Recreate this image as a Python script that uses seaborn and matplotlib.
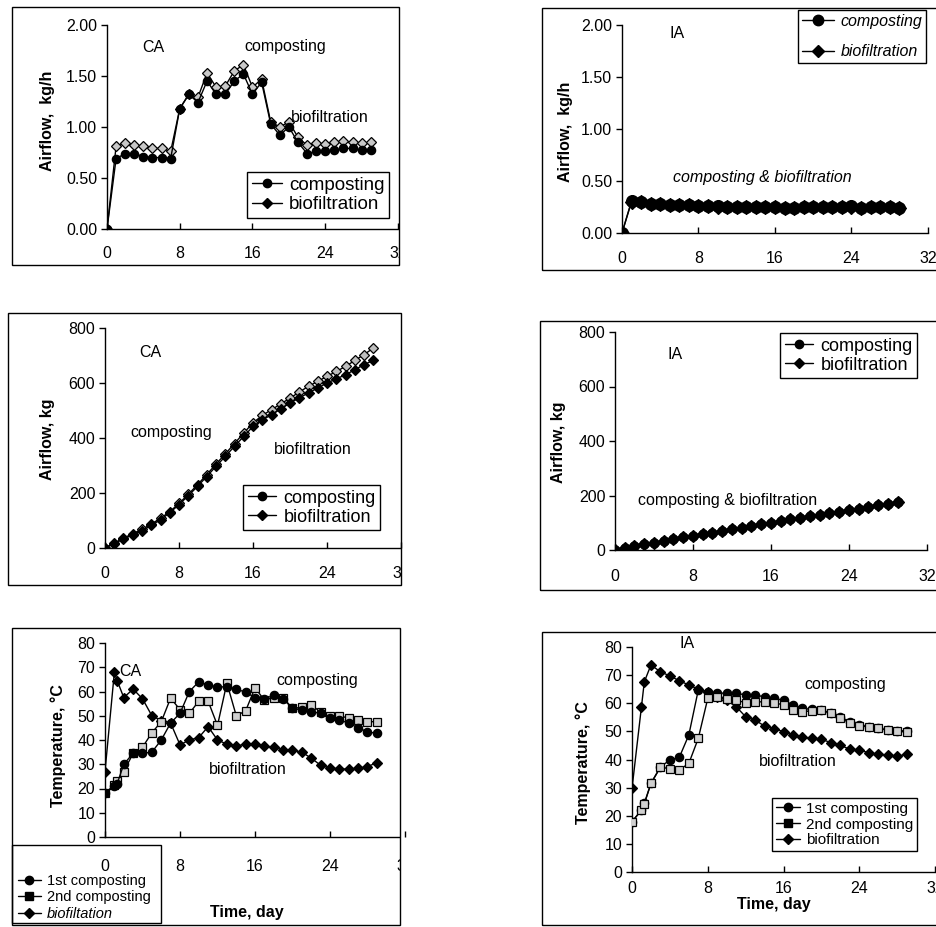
import matplotlib
matplotlib.use("Agg")
import matplotlib.pyplot as plt
import seaborn as sns
from matplotlib.lines import Line2D
from matplotlib.patches import Rectangle

sns.set_style("white")
plt.rcParams["font.family"] = ["Liberation Sans", "DejaVu Sans"]
plt.rcParams["text.color"] = "black"
plt.rcParams["axes.labelcolor"] = "black"
plt.rcParams["xtick.color"] = "black"
plt.rcParams["ytick.color"] = "black"

# ---------------- data ----------------
days = list(range(30))
days_t = [0, 1, 1.3] + list(range(2, 30))

# Airflow rate, kg/h
ca_rate_comp = [0, 0.69, 0.74, 0.74, 0.71, 0.70, 0.70, 0.69, 1.18, 1.32, 1.24, 1.45,
                1.32, 1.32, 1.45, 1.52, 1.32, 1.44, 1.03, 0.92, 1.00, 0.85, 0.74, 0.76,
                0.76, 0.77, 0.79, 0.79, 0.77, 0.77]
ca_rate_bio = [0, 0.81, 0.84, 0.82, 0.81, 0.79, 0.79, 0.76, 1.18, 1.32, 1.29, 1.53,
               1.39, 1.40, 1.55, 1.61, 1.39, 1.47, 1.05, 1.00, 1.05, 0.90, 0.82, 0.84,
               0.83, 0.85, 0.86, 0.85, 0.84, 0.85]
ia_rate_comp = [0, 0.31, 0.30, 0.28, 0.28, 0.27, 0.27, 0.27, 0.26, 0.26, 0.26, 0.25,
                0.25, 0.25, 0.25, 0.25, 0.25, 0.24, 0.24, 0.25, 0.25, 0.25, 0.25, 0.25,
                0.26, 0.24, 0.25, 0.25, 0.25, 0.24]
ia_rate_bio = [0, 0.30, 0.30, 0.28, 0.28, 0.27, 0.27, 0.27, 0.26, 0.26, 0.25, 0.25,
               0.25, 0.25, 0.25, 0.25, 0.25, 0.24, 0.24, 0.25, 0.25, 0.25, 0.25, 0.25,
               0.25, 0.24, 0.25, 0.25, 0.25, 0.24]

# Cumulative airflow, kg
ca_cum_comp = [0, 16, 33, 48, 63, 82, 103, 128, 158, 190, 224, 260, 297, 333, 370,
               406, 442, 465, 485, 506, 527, 546, 564, 582, 600, 615, 630, 648, 667, 682]
ca_cum_bio = [0, 18, 36, 52, 68, 87, 108, 132, 162, 195, 230, 267, 305, 342, 380,
              418, 455, 482, 503, 524, 545, 567, 588, 606, 624, 642, 660, 682, 703, 727]
ia_cum_comp = [0, 7, 14, 21, 27, 34, 40, 46, 52, 58, 64, 70, 76, 82, 88, 94, 100, 106,
               112, 117, 123, 129, 135, 141, 147, 152, 158, 164, 170, 175]
ia_cum_bio = [0, 7, 14, 21, 27, 34, 40, 46, 52, 58, 64, 70, 76, 82, 88, 94, 100, 106,
              112, 117, 123, 129, 135, 141, 147, 152, 158, 164, 170, 175]

# Temperature, degC
ca_t_1st = [18, 21, 22, 30, 34.5, 34.5, 35, 40, 47, 51, 60, 64, 62.7, 61.8, 62, 61,
            59.7, 57.5, 57, 58.4, 57, 53, 52.4, 51.7, 51, 49, 48.2, 47, 45, 43.4, 42.7]
ca_t_2nd = [18, 21.5, 23, 27, 34.5, 37, 43, 47.5, 57.3, 52.5, 51, 56, 56, 46, 63.5, 50,
            52, 61.5, 56.5, 57.5, 57.5, 53, 53.5, 54.5, 51.5, 50, 50, 49, 48.2, 47.6, 47.5]
ca_t_bio = [27, 68, 64.5, 57.5, 61, 57, 50, 48, 47, 38, 40, 41, 45.5, 40, 38.3, 37.5,
            38.3, 38.5, 37.5, 37, 36, 35.7, 35, 32.5, 29.6, 28.5, 28, 28, 28.3, 29, 30.7]
ia_t_1st = [17.9, 22, 24.4, 31.5, 37.4, 39.8, 40.8, 48.7, 64.7, 64, 63.7, 63.5, 63.5, 63,
            62.9, 62.3, 61.7, 61.1, 59.4, 58.2, 57.8, 57.6, 56.4, 55.2, 53.4, 52.3, 51.7,
            51.1, 50.5, 50.2, 50.2]
ia_t_2nd = [17.9, 22, 24.2, 31.5, 37.2, 36.8, 36.3, 38.6, 47.5, 61.7, 62.3, 61.4, 61.1,
            60.2, 60.5, 60.5, 60.2, 59.4, 57.6, 57, 57.3, 57.6, 56.4, 54.6, 53.1, 51.9,
            51.7, 51.1, 50.5, 50.2, 49.8]
ia_t_bio = [29.7, 58.8, 67.6, 73.6, 71.2, 69.7, 68, 66.5, 65, 64, 62.3, 61, 58.8, 55.2,
            54, 51.9, 51, 49.9, 48.7, 47.9, 47.5, 47.2, 46, 45.1, 43.6, 43.4, 42.4, 41.9,
            41.6, 41.2, 41.8]

x_ticks = [0, 8, 16, 24, 32]
rate_ticks = [0.0, 0.5, 1.0, 1.5, 2.0]
cum_ticks = [0, 200, 400, 600, 800]
temp_ticks = [0, 10, 20, 30, 40, 50, 60, 70, 80]

# ---------------- figure ----------------
W, H = 937, 927
fig = plt.figure(figsize=(W / 100, H / 100), dpi=100)
fig.patch.set_facecolor("white")

TICK_FS = 11.5
ANN_FS = 11.5


def fx(x):
    return x / W


def fy(y):
    return 1 - y / H


def px_axes(L, T, R, B):
    return fig.add_axes([L / W, 1 - B / H, (R - L) / W, (B - T) / H])


def box(L, T, R, B, z=5):
    r = Rectangle((L / W, 1 - B / H), (R - L) / W, (B - T) / H, transform=fig.transFigure,
                  fill=False, ec="black", lw=1.0, zorder=z)
    fig.add_artist(r)


def frame(L, T, R, B):
    box(L, T, R, B)
    return Rectangle((L / W, 1 - B / H), (R - L) / W, (B - T) / H, transform=fig.transFigure)


def style(ax, yticks, ylabels, ylim, xpad):
    ax.set_facecolor("none")
    ax.set_xlim(0, 32)
    ax.set_xticks(x_ticks)
    ax.set_xticklabels([str(v) for v in x_ticks])
    ax.set_ylim(*ylim)
    ax.set_yticks(yticks)
    ax.set_yticklabels(ylabels)
    for s in ["top", "right"]:
        ax.spines[s].set_visible(False)
    for s in ["left", "bottom"]:
        ax.spines[s].set_color("black")
        ax.spines[s].set_linewidth(1.0)
    ax.tick_params(axis="y", direction="out", length=4, width=1, labelsize=TICK_FS,
                   pad=3, left=True)
    ax.tick_params(axis="x", direction="in", length=4, width=1, labelsize=TICK_FS,
                   pad=xpad, bottom=True)
    ax.set_xlabel("")
    ax.set_ylabel("")


def ylab(ax, text, x, y):
    ax.set_ylabel(text, fontsize=11.5, fontweight="bold")
    ax.yaxis.set_label_coords(fx(x + 8), fy(y), transform=fig.transFigure)


def leg(ax, handles, labels, x, y, prop, frameon=True, labelspacing=0.12, handlelength=1.6):
    lg = ax.legend(handles, labels, loc="upper left", bbox_to_anchor=(fx(x), fy(y)),
                   bbox_transform=fig.transFigure, frameon=frameon, fancybox=False,
                   framealpha=1, edgecolor="black", borderaxespad=0, borderpad=0.25,
                   handlelength=handlelength, handletextpad=0.4, labelspacing=labelspacing,
                   prop=prop)
    lg.get_frame().set_linewidth(1.0)
    lg.set_zorder(6)
    return lg


def h_circle(ms=6):
    return Line2D([], [], color="black", lw=1, marker="o", ms=ms, mfc="black", mec="black")


def h_diamond(ms=6):
    return Line2D([], [], color="black", lw=1, marker="D", ms=ms * 0.8, mfc="black", mec="black")


def h_square(ms=6):
    return Line2D([], [], color="black", lw=1, marker="s", ms=ms * 0.9, mfc="black", mec="black")


def line(ax, x, y, marker, ms, mfc, lw=1.0, z=3):
    sns.lineplot(x=x, y=y, ax=ax, color="black", linewidth=lw, marker=marker, markersize=ms,
                 markerfacecolor=mfc, markeredgecolor="black", markeredgewidth=0.9,
                 sort=False, zorder=z)


clips = []

# ---- Panel 1: CA airflow rate ----
c1 = frame(12, 7, 399, 265)
ax1 = px_axes(107, 25, 398, 229)
line(ax1, days, ca_rate_bio, "D", 5.2, "#c8c8c8", z=3)
line(ax1, days, ca_rate_comp, "o", 6, "black", z=4)
style(ax1, rate_ticks, ["%.2f" % v for v in rate_ticks], (0, 2.0), 12)
ylab(ax1, "Airflow,  kg/h", 47, 121)
fig.text(fx(153), fy(47), "CA", ha="center", va="center", fontsize=ANN_FS)
fig.text(fx(285), fy(47), "composting", ha="center", va="center", fontsize=ANN_FS)
fig.text(fx(330), fy(117), "biofiltration", ha="center", va="center", fontsize=ANN_FS)
leg(ax1, [h_circle(), h_diamond()], ["composting", "biofiltration"], 247, 172,
    {"size": 13.5})
clips.append((ax1, c1))

# ---- Panel 2: IA airflow rate ----
c2 = frame(542, 8, 945, 270)
ax2 = px_axes(622, 25, 928, 233)
line(ax2, days, ia_rate_bio, "D", 7, "black", z=3)
line(ax2, days, ia_rate_comp, "o", 8.5, "black", z=4)
style(ax2, rate_ticks, ["%.2f" % v for v in rate_ticks], (0, 2.0), 13)
ylab(ax2, "Airflow,  kg/h", 565, 132)
fig.text(fx(677), fy(33), "IA", ha="center", va="center", fontsize=ANN_FS)
fig.text(fx(762), fy(177), "composting & biofiltration", ha="center", va="center",
         fontsize=ANN_FS, style="italic")
leg(ax2, [h_circle(7.5), h_diamond(7.5)], ["composting", "biofiltration"], 798, 10,
    {"size": 11.5, "style": "italic"}, labelspacing=0.95, handlelength=2.0)

# ---- Panel 3: CA cumulative ----
c3 = frame(8, 313, 401, 585)
ax3 = px_axes(105, 328, 401, 548)
line(ax3, days, ca_cum_bio, "D", 5, "#bdbdbd", z=3)
line(ax3, days, ca_cum_comp, "D", 5, "black", z=4)
style(ax3, cum_ticks, [str(v) for v in cum_ticks], (0, 800), 13)
ylab(ax3, "Airflow, kg", 47, 439)
fig.text(fx(150), fy(352), "CA", ha="center", va="center", fontsize=ANN_FS)
fig.text(fx(171), fy(432), "composting", ha="center", va="center", fontsize=ANN_FS)
fig.text(fx(313), fy(450), "biofiltration", ha="center", va="center", fontsize=ANN_FS)
leg(ax3, [h_circle(), h_diamond()], ["composting", "biofiltration"], 243, 485,
    {"size": 13})
clips.append((ax3, c3))

# ---- Panel 4: IA cumulative ----
c4 = frame(540, 321, 945, 590)
ax4 = px_axes(615, 332, 927, 550)
line(ax4, days, ia_cum_bio, "D", 6, "black", z=3)
line(ax4, days, ia_cum_comp, "o", 6.5, "black", z=4)
style(ax4, cum_ticks, [str(v) for v in cum_ticks], (0, 800), 14)
ylab(ax4, "Airflow, kg", 558, 442)
fig.text(fx(675), fy(355), "IA", ha="center", va="center", fontsize=ANN_FS)
fig.text(fx(728), fy(500), "composting & biofiltration", ha="center", va="center",
         fontsize=ANN_FS)
leg(ax4, [h_circle(), h_diamond()], ["composting", "biofiltration"], 780, 333,
    {"size": 13})

# ---- Panel 5: CA temperature ----
c5 = frame(12, 628, 400, 925)
ax5 = px_axes(105, 643, 405, 837)
line(ax5, days_t, ca_t_bio, "D", 5.2, "black", z=3)
line(ax5, days_t, ca_t_2nd, "s", 6, "#d0d0d0", z=4)
line(ax5, days_t, ca_t_1st, "o", 6, "black", z=5)
style(ax5, temp_ticks, [str(v) for v in temp_ticks], (0, 80), 15.5)
ylab(ax5, "Temperature, °C", 58, 746)
fig.text(fx(247), fy(912), "Time, day", ha="center", va="center", fontsize=11.5,
         fontweight="bold")
fig.text(fx(130), fy(672), "CA", ha="center", va="center", fontsize=ANN_FS)
fig.text(fx(317), fy(680), "composting", ha="center", va="center", fontsize=ANN_FS)
fig.text(fx(248), fy(769), "biofiltration", ha="center", va="center", fontsize=ANN_FS)
box(12, 845, 161, 923, z=6)
lg5 = leg(ax5, [h_circle(), h_square(), h_diamond()],
          ["1st composting", "2nd composting", "biofiltation"], 14, 870,
          {"size": 10.5}, frameon=False, labelspacing=0.18)
lg5.get_texts()[2].set_style("italic")
clips.append((ax5, c5))

# ---- Panel 6: IA temperature ----
c6 = frame(542, 632, 945, 925)
ax6 = px_axes(632, 647, 935, 872)
line(ax6, days_t, ia_t_bio, "D", 5.2, "black", z=3)
line(ax6, days_t, ia_t_2nd, "s", 6, "#d0d0d0", z=4)
line(ax6, days_t, ia_t_1st, "o", 6, "black", z=2)
style(ax6, temp_ticks, [str(v) for v in temp_ticks], (0, 80), 6.5)
ylab(ax6, "Temperature, °C", 583, 763)
fig.text(fx(774), fy(904), "Time, day", ha="center", va="center", fontsize=11.5,
         fontweight="bold")
fig.text(fx(687), fy(643), "IA", ha="center", va="center", fontsize=ANN_FS)
fig.text(fx(845), fy(685), "composting", ha="center", va="center", fontsize=ANN_FS)
fig.text(fx(798), fy(762), "biofiltration", ha="center", va="center", fontsize=ANN_FS)
leg(ax6, [h_circle(), h_square(), h_diamond()],
    ["1st composting", "2nd composting", "biofiltration"], 772, 798,
    {"size": 11})

# clip the left panels' x axes at their frames
fig.canvas.draw()
for ax, cp in clips:
    for t in ax.get_xticklabels():
        t.set_clip_path(cp)
    ax.spines["bottom"].set_clip_path(cp)

fig.savefig("out.png", dpi=100, facecolor="white")
